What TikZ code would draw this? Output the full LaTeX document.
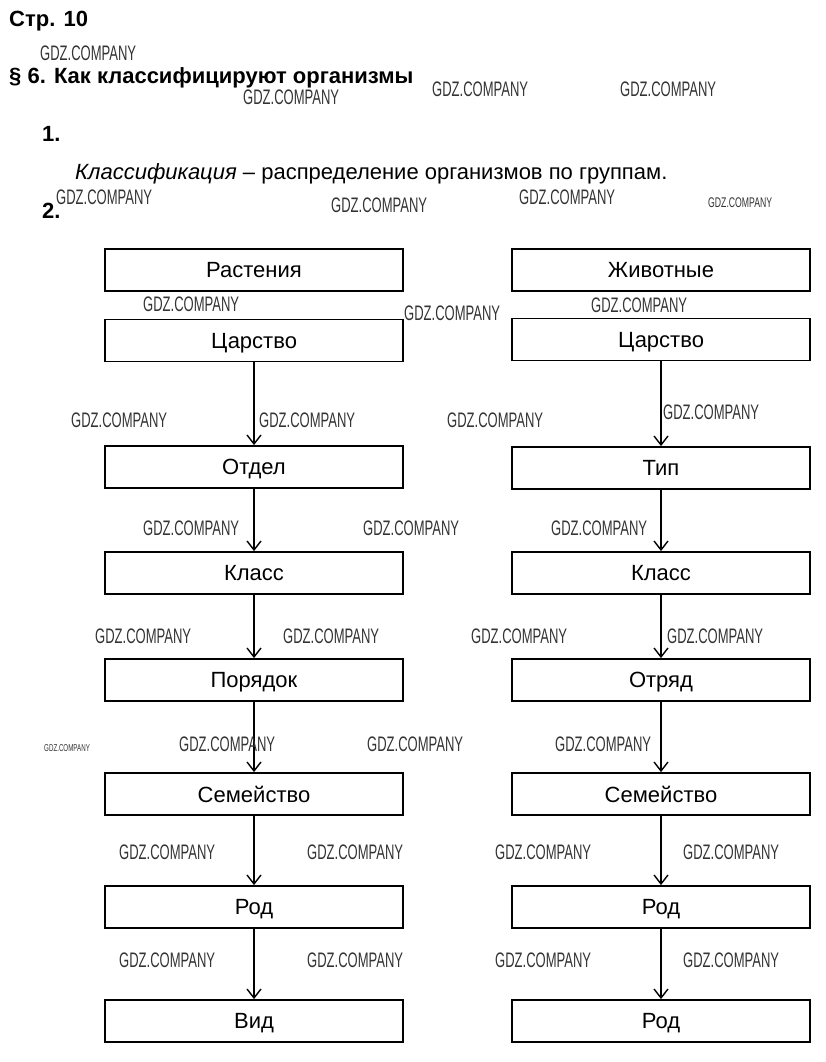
\documentclass[tikz,border=0pt]{standalone}
\usepackage{fontspec}
\setmainfont{Liberation Sans}
\newfontfamily\wmfont{Liberation Sans}
\usetikzlibrary{arrows.meta}
\begin{document}
\begin{tikzpicture}[x=1pt,y=-1pt,
  box/.style={draw,line width=1.8pt,minimum width=298pt,minimum height=42pt,inner sep=0pt,text depth=0pt,font=\fontsize{22}{24}\selectfont},
  conn/.style={line width=1.4pt,-{Straight Barb[length=9pt,width=14pt,line width=1.4pt]}},
  hd/.style={anchor=base west,inner sep=0pt,font=\fontsize{22}{24}\selectfont\bfseries},
  wm/.style={anchor=west,inner sep=0pt,text=black!80}]
\useasboundingbox (0,0) rectangle (825,1062);
% header texts
\node[hd] (t1) at (9,27) {Стр. 10};
\node[hd] (t2) at (9,84) {§ 6. Как классифицируют организмы};
\node[hd] (t3) at (42,141) {1.};
\node[anchor=base west,inner sep=0pt,font=\fontsize{22}{24}\selectfont] (t4) at (75,179) {\textit{Классификация} – распределение организмов по группам.};
\node[hd] (t5) at (42,218) {2.};
% left column
\node[box] (l1) at (254,270) {Растения};
\node[box] (l2) at (254,340.5) {Царство};
\node[box] (l3) at (254,467) {Отдел};
\node[box] (l4) at (254,573) {Класс};
\node[box] (l5) at (254,680) {Порядок};
\node[box] (l6) at (254,794) {Семейство};
\node[box] (l7) at (254,907) {Род};
\node[box] (l8) at (254,1021) {Вид};
% right column
\node[box] (r1) at (661,270) {Животные};
\node[box] (r2) at (661,339.5) {Царство};
\node[box] (r3) at (661,468) {Тип};
\node[box] (r4) at (661,573) {Класс};
\node[box] (r5) at (661,680) {Отряд};
\node[box] (r6) at (661,794) {Семейство};
\node[box] (r7) at (661,907) {Род};
\node[box] (r8) at (661,1021) {Род};
% connectors
\foreach \a/\b in {2/3,3/4,4/5,5/6,6/7,7/8}{
  \draw[conn] (l\a.south) -- (l\b.north);
  \draw[conn] (r\a.south) -- (r\b.north);
}
% watermarks
\foreach \x/\y [count=\i] in {40/53,243/97,432/89,620/89,56/197,331/205,519/197,143/304,404/313,591/305,71/420,259/420,447/420,663/412,143/528,363/528,551/528,95/636,283/636,471/636,667/636,179/744,367/744,555/744,119/852,307/852,495/852,683/852,119/960,307/960,495/960,683/960}{
  \node[wm] (w\i) at (\x,\y) {\scalebox{0.62}[1]{\wmfont\fontsize{21}{21}\selectfont GDZ.COMPANY}};
}
\node[wm] (wa) at (708,203) {\scalebox{0.62}[1]{\wmfont\fontsize{14}{14}\selectfont GDZ.COMPANY}};
\node[wm] (wb) at (44,748) {\scalebox{0.62}[1]{\wmfont\fontsize{10}{10}\selectfont GDZ.COMPANY}};
\end{tikzpicture}
\end{document}
